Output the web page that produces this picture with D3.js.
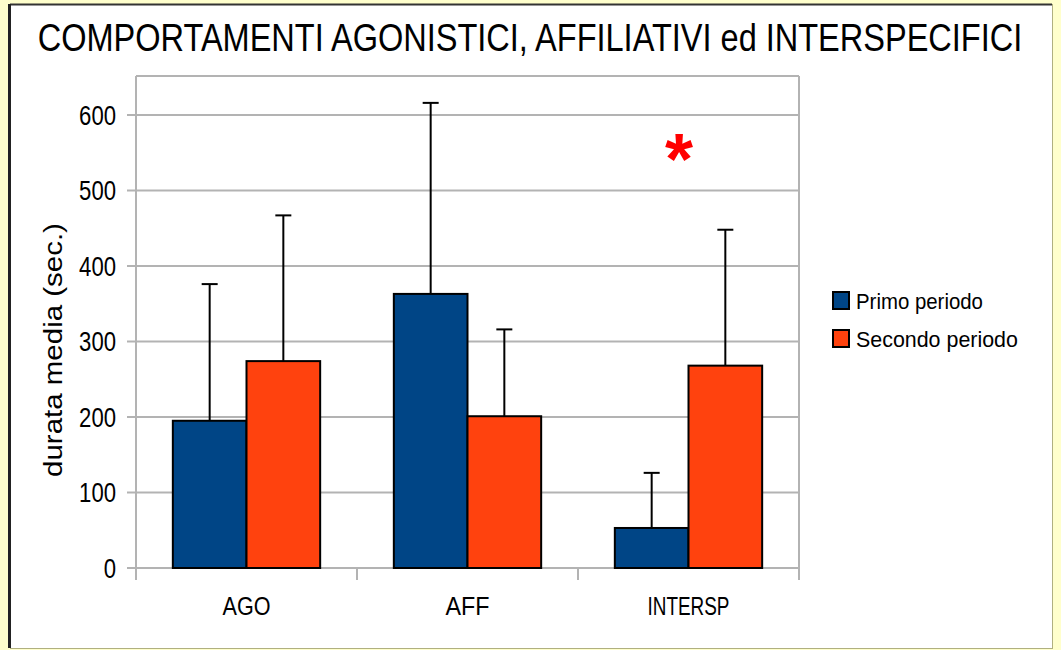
<!DOCTYPE html>
<html><head><meta charset="utf-8">
<script src="https://cdn.jsdelivr.net/npm/d3@7"></script>
<style>body{margin:0;background:#ffffcc;}svg{display:block;font-family:"Liberation Sans",Arial,sans-serif;}</style>
</head><body>
<svg id="c" width="1061" height="650"></svg>
<script>
const categories = ["AGO", "AFF", "INTERSP"];
const seriesNames = ["Primo periodo", "Secondo periodo"];
const primo = [195, 363, 53];
const secondo = [274, 201, 268];
const primoErr = [376, 616, 126];
const secondoErr = [467, 316, 448];
const yTicks = [0, 100, 200, 300, 400, 500, 600];
const colors = ["#004586", "#ff420e"];

const svg = d3.select("#c");
// place text at (x,y), scaled horizontally to width w (or by factor)
function placeFit(sel, x, y, w, rot) {
  const n = sel.node();
  const nat = n.getComputedTextLength();
  const sx = w / nat;
  sel.attr("transform", `translate(${x},${y})` + (rot ? ` rotate(${rot})` : "") + ` scale(${sx},1)`);
}

// frame
svg.append("rect").attr("x",0).attr("y",0).attr("width",1061).attr("height",650).attr("fill","#ffffcc");
svg.append("rect").attr("x",10).attr("y",4).attr("width",1042).attr("height",644).attr("fill","#fff");
svg.append("line").attr("x1",10).attr("x2",1052).attr("y1",4.5).attr("y2",4.5).attr("stroke","#333").attr("stroke-width",2);
svg.append("line").attr("x1",9.5).attr("x2",9.5).attr("y1",4).attr("y2",648).attr("stroke","#222").attr("stroke-width",3);
svg.append("line").attr("x1",1052.5).attr("x2",1052.5).attr("y1",4).attr("y2",648).attr("stroke","#b0b080").attr("stroke-width",1);
svg.append("line").attr("x1",10).attr("x2",1053).attr("y1",648.5).attr("y2",648.5).attr("stroke","#b0b080").attr("stroke-width",1);

const L = 136, R = 799, T = 76, B = 568;
const y = d3.scaleLinear().domain([0, 651.6]).range([B, T]);
const x0 = d3.scaleBand().domain(categories).range([L, R]).paddingInner(0).paddingOuter(0);
const x1 = d3.scaleBand().domain(seriesNames).range([x0.bandwidth()/6, x0.bandwidth()*5/6]);

// title
const title = svg.append("text").attr("text-anchor","middle").attr("font-size", 39)
  .text("COMPORTAMENTI AGONISTICI, AFFILIATIVI ed INTERSPECIFICI");
placeFit(title, 530, 51, 985);

const g = svg.append("g");
// grid
g.selectAll(".grid").data(yTicks).join("line")
  .attr("x1", L-9).attr("x2", R).attr("y1", d=>y(d)).attr("y2", d=>y(d))
  .attr("stroke","#b3b3b3").attr("stroke-width",2);
g.append("line").attr("x1",L).attr("x2",R).attr("y1",T).attr("y2",T).attr("stroke","#b3b3b3").attr("stroke-width",2);
const bounds = [L, ...categories.slice(1).map(c=>x0(c)), R];
g.selectAll(".vt").data(bounds).join("line")
  .attr("x1", d=>d).attr("x2", d=>d)
  .attr("y1", (d,i)=> (i===0||i===bounds.length-1) ? T : B).attr("y2", B+12)
  .attr("stroke","#b3b3b3").attr("stroke-width",2);

// y labels
g.selectAll(".yl").data(yTicks).join("text")
  .attr("text-anchor","end").attr("font-size",27)
  .attr("transform", d=>`translate(116,${y(d)+10}) scale(0.82,1)`).text(d=>d);

// x labels
const xlW = {"AGO": 48, "AFF": 44, "INTERSP": 82};
g.selectAll(".xl").data(categories).join("text")
  .attr("text-anchor","middle").attr("font-size",25).text(d=>d)
  .each(function(d){ placeFit(d3.select(this), x0(d)+x0.bandwidth()/2, 615, xlW[d]); });

// y title
const yt = svg.append("text").attr("text-anchor","middle").attr("font-size",26).text("durata media (sec.)");
placeFit(yt, 62, 350, 254, -90);

const series = [primo, secondo];
const errs = [primoErr, secondoErr];
seriesNames.forEach((s, si) => {
  const data = categories.map((c, i) => ({c, v: series[si][i], e: errs[si][i]}));
  g.selectAll(".eb"+si).data(data).join("line")
    .attr("x1", d=>x0(d.c)+x1(s)+x1.bandwidth()/2).attr("x2", d=>x0(d.c)+x1(s)+x1.bandwidth()/2)
    .attr("y1", d=>y(d.v)).attr("y2", d=>y(d.e)).attr("stroke","#000").attr("stroke-width",2);
  g.selectAll(".ec"+si).data(data).join("line")
    .attr("x1", d=>x0(d.c)+x1(s)+x1.bandwidth()/2-8).attr("x2", d=>x0(d.c)+x1(s)+x1.bandwidth()/2+8)
    .attr("y1", d=>y(d.e)).attr("y2", d=>y(d.e)).attr("stroke","#000").attr("stroke-width",2);
});
seriesNames.forEach((s, si) => {
  const data = categories.map((c, i) => ({c, v: series[si][i]}));
  g.selectAll(".bar"+si).data(data).join("rect")
    .attr("x", d=>x0(d.c)+x1(s)).attr("width", x1.bandwidth())
    .attr("y", d=>y(d.v)).attr("height", d=>B-y(d.v))
    .attr("fill", colors[si]).attr("stroke","#000").attr("stroke-width",2);
});

// asterisk
svg.append("text").attr("x", 679).attr("y", 184).attr("text-anchor","middle")
  .attr("font-size", 72).attr("font-weight","bold").attr("fill","#ff0000").text("*");

// legend
const legW = [127, 162];
const leg = svg.append("g");
seriesNames.forEach((s, i) => {
  leg.append("rect").attr("x", 833).attr("y", 292 + i*38).attr("width", 16).attr("height", 17)
    .attr("fill", colors[i]).attr("stroke","#000").attr("stroke-width",2);
  const t = leg.append("text").attr("font-size", 22).text(s);
  placeFit(t, 856, 309 + i*38, legW[i]);
});
</script>
</body></html>
